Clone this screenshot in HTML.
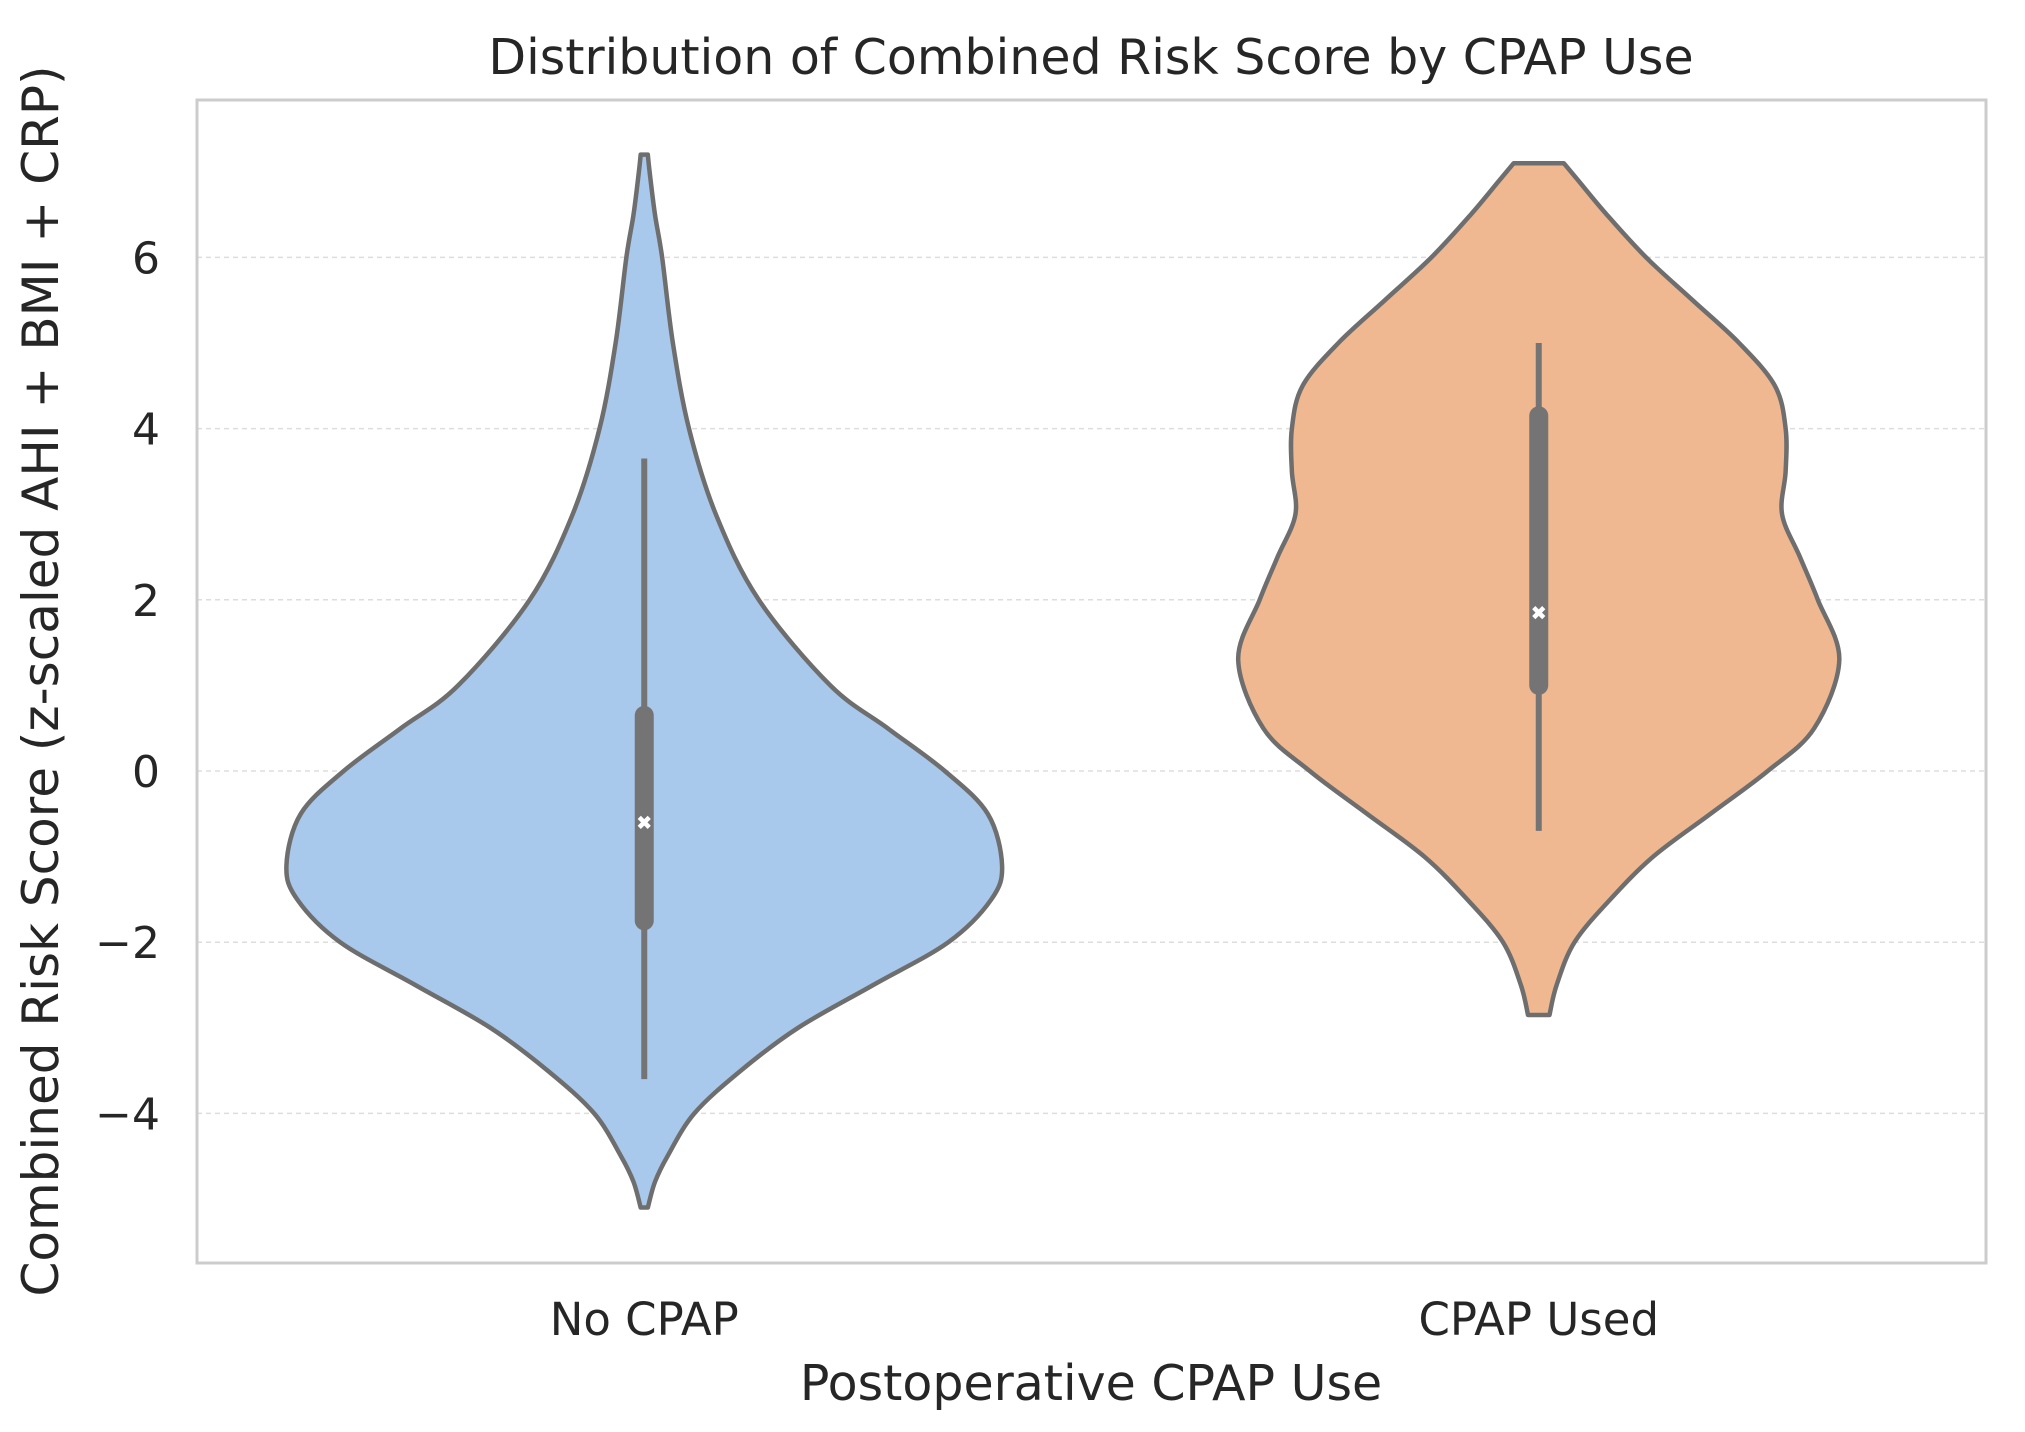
<!DOCTYPE html>
<html><head><meta charset="utf-8"><style>
html,body{margin:0;padding:0;background:#fff}
svg{display:block}
text{font-family:"DejaVu Sans","Liberation Sans",sans-serif;fill:#262626}
</style></head><body>
<svg id="chart" width="2025" height="1432" viewBox="0 0 2025 1432" xmlns="http://www.w3.org/2000/svg">
<rect x="0" y="0" width="2025" height="1432" fill="#fff"/>
<text x="1091" y="74" text-anchor="middle" font-size="49">Distribution of Combined Risk Score by CPAP Use</text>
<text transform="translate(58,681) rotate(-90)" text-anchor="middle" font-size="50">Combined Risk Score (z-scaled AHI + BMI + CRP)</text>
<text x="1091" y="1400" text-anchor="middle" font-size="49">Postoperative CPAP Use</text>
<g id="grid"></g>
<g id="violins"></g>
<g id="ticks"></g>
<rect x="197" y="100" width="1789" height="1163" fill="none" stroke="#cccccc" stroke-width="3"/>
</svg>
<script>
const categories = ["No CPAP", "CPAP Used"];
const colors = ["#a8c8ec", "#efb890"];
const yTicks = [-4, -2, 0, 2, 4, 6];
const v1Y = [7.2, 7.0, 6.5, 6.0, 5.0, 4.0, 3.0, 2.0, 1.0, 0.5, 0.0, -0.5, -1.1, -1.5, -2.0, -2.5, -3.0, -3.5, -4.0, -4.5, -4.8, -5.1];
const v1D = [0.01, 0.015, 0.03, 0.05, 0.08, 0.125, 0.2, 0.32, 0.52, 0.68, 0.84, 0.96, 1.0, 0.97, 0.85, 0.64, 0.43, 0.27, 0.14, 0.065, 0.03, 0.01];
const v2Y = [7.1, 6.9, 6.5, 6.0, 5.5, 5.0, 4.5, 4.0, 3.5, 3.0, 2.5, 2.0, 1.3, 0.5, 0.0, -0.5, -1.0, -1.5, -2.0, -2.5, -2.85];
const v2D = [0.07, 0.11, 0.19, 0.3, 0.43, 0.56, 0.66, 0.69, 0.69, 0.68, 0.73, 0.78, 0.84, 0.77, 0.64, 0.48, 0.32, 0.2, 0.1, 0.05, 0.03];
const whiskLo = [-3.6, -0.7];
const whiskHi = [3.65, 5.0];
const q1 = [-1.75, 1.0];
const q3 = [0.65, 4.15];
const medians = [-0.6, 1.85];

const L=197, R=1986, T=100, B=1263;
const band=(R-L)/categories.length;
const xScale=i=>L+band*(i+0.5);
const yScale=v=>771 - v*85.6;
const maxHalf=0.4*band;
const NS="http://www.w3.org/2000/svg";
function mk(tag,attrs,parent){const e=document.createElementNS(NS,tag);for(const k in attrs)e.setAttribute(k,attrs[k]);parent.appendChild(e);return e;}

const grid=document.getElementById('grid');
const ticks=document.getElementById('ticks');
yTicks.forEach(t=>{
  const ln=mk('line',{x1:L,x2:R,y1:yScale(t),y2:yScale(t),stroke:'#dddddd','stroke-width':1.5,'stroke-dasharray':'5,4'},grid);
  
  
  const tx=mk('text',{x:160,y:yScale(t)+16,'text-anchor':'end','font-size':44},ticks);
  tx.textContent=(t<0?'\u2212'+Math.abs(t):String(t));
  
  
});
categories.forEach((c,i)=>{
  const tx=mk('text',{x:xScale(i),y:1335,'text-anchor':'middle','font-size':45},ticks);
  tx.textContent=c;
  
  
});

function smooth(pts){
  let d='M'+pts[0][0]+','+pts[0][1];
  for(let i=0;i<pts.length-1;i++){
    const p0=pts[Math.max(i-1,0)],p1=pts[i],p2=pts[i+1],p3=pts[Math.min(i+2,pts.length-1)];
    const c1=[p1[0]+(p2[0]-p0[0])/6,p1[1]+(p2[1]-p0[1])/6];
    const c2=[p2[0]-(p3[0]-p1[0])/6,p2[1]-(p3[1]-p1[1])/6];
    d+=` C${c1[0]},${c1[1]} ${c2[0]},${c2[1]} ${p2[0]},${p2[1]}`;
  }
  return d;
}
const vg=document.getElementById('violins');
[[v1Y,v1D],[v2Y,v2D]].forEach(([ys,ds],i)=>{
  const cx=xScale(i);
  const right=ys.map((v,k)=>[cx+ds[k]*maxHalf,yScale(v)]);
  const left=ys.map((v,k)=>[cx-ds[k]*maxHalf,yScale(v)]).reverse();
  const d=smooth(right)+' L'+left[0][0]+','+left[0][1]+smooth(left).replace(/^M[^C]*/,' ')+' Z';
  const p=mk('path',{d:d,fill:colors[i],stroke:'#6e6e6e','stroke-width':4.5,'stroke-linejoin':'round'},vg);
  
  
  const w=mk('line',{x1:cx,x2:cx,y1:yScale(whiskHi[i]),y2:yScale(whiskLo[i]),stroke:'#747474','stroke-width':6},vg);
  
  
  const b=mk('line',{x1:cx,x2:cx,y1:yScale(q3[i]),y2:yScale(q1[i]),stroke:'#747474','stroke-width':19,'stroke-linecap':'round'},vg);
  
  
  const my=yScale(medians[i]);
  const m=mk('path',{d:`M${cx-5},${my-5} L${cx+5},${my+5} M${cx+5},${my-5} L${cx-5},${my+5}`,stroke:'#fff','stroke-width':4.5},vg);
  
  
});
</script>
</body></html>
